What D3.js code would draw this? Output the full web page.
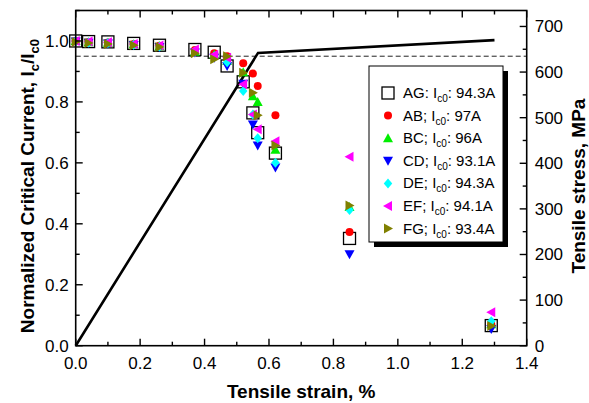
<!DOCTYPE html>
<html><head><meta charset="utf-8">
<script src="https://cdn.jsdelivr.net/npm/d3@7"></script>
<style>body{margin:0;background:#fff}svg{display:block;font-family:Arial,"Liberation Sans",sans-serif}</style>
</head><body><svg id="c" width="589" height="403"></svg>
<script>
// ---- data ----
const strains = [0, 0.04, 0.1, 0.18, 0.26, 0.37, 0.43, 0.47, 0.52, 0.55, 0.565, 0.62, 0.85, 1.29];
const seriesNames = ["AG", "AB", "BC", "CD", "DE", "EF", "FG"];
const seriesLabelSep = [":", ";", ";", ";", ";", ";", ";"];
const seriesIc0 = ["94.3A", "97A", "96A", "93.1A", "94.3A", "94.1A", "93.4A"];
const seriesColors = ["#000000", "#ff0000", "#00ee00", "#0000ff", "#00ffff", "#ff00ff", "#808000"];
const seriesShapes = ["square", "circle", "up", "down", "diamond", "left", "right"];
const AG = [1.0, 0.998, 0.997, 0.992, 0.986, 0.972, 0.963, 0.918, 0.866, 0.764, 0.699, 0.632, 0.352, 0.066];
const AB = [1.0, 0.997, 0.995, 0.99, 0.984, 0.97, 0.96, 0.95, 0.927, 0.893, 0.852, 0.756, 0.373, 0.07];
const BC = [1.0, 0.996, 0.994, 0.989, 0.983, 0.965, 0.955, 0.935, 0.897, 0.819, 0.80, 0.643, 0.455, 0.07];
const CD = [0.998, 0.994, 0.992, 0.987, 0.98, 0.962, 0.945, 0.918, 0.86, 0.726, 0.657, 0.585, 0.30, 0.055];
const DE = [0.999, 0.995, 0.993, 0.988, 0.982, 0.966, 0.95, 0.93, 0.836, 0.759, 0.681, 0.60, 0.445, 0.08];
const EF = [1.0, 0.998, 0.996, 0.99, 0.985, 0.972, 0.955, 0.945, 0.858, 0.759, 0.71, 0.671, 0.62, 0.11];
const FG = [0.997, 0.993, 0.99, 0.986, 0.98, 0.96, 0.94, 0.95, 0.896, 0.83, 0.756, 0.657, 0.46, 0.065];
const seriesValues = [AG, AB, BC, CD, DE, EF, FG];
const stressStrain = [0, 0.566, 1.3];
const stressValues = [0, 642, 670];
const thresholdValue = 0.95;
const xTicks = [0, 0.2, 0.4, 0.6, 0.8, 1.0, 1.2, 1.4];
const yTicks = [0, 0.2, 0.4, 0.6, 0.8, 1.0];
const y2Ticks = [0, 100, 200, 300, 400, 500, 600, 700];

// ---- layout ----
const L = 75.7, R = 526.7, T = 10.5, B = 345.7;
const svg = d3.select("#c");
const x = d3.scaleLinear().domain([0, 1.4]).range([L, R]);
const y = d3.scaleLinear().domain([0, 1.1]).range([B, T]);
const y2 = d3.scaleLinear().domain([0, 735]).range([B, T]);

// threshold dashed line
svg.append("line").attr("x1", L).attr("x2", R).attr("y1", y(thresholdValue)).attr("y2", y(thresholdValue))
  .attr("stroke", "#222").attr("stroke-width", 1).attr("stroke-dasharray", "5,3");

// stress-strain line
svg.append("path").datum(stressStrain.map((s, i) => [s, stressValues[i]]))
  .attr("d", d3.line().x(d => x(d[0])).y(d => y2(d[1])))
  .attr("fill", "none").attr("stroke", "#000").attr("stroke-width", 2.6);

// markers
function marker(g, shape, color, cx, cy) {
  const s = 5;
  if (shape === "square") {
    g.append("rect").attr("x", cx - 6).attr("y", cy - 6).attr("width", 12).attr("height", 12)
      .attr("fill", "none").attr("stroke", color).attr("stroke-width", 1.3);
  } else if (shape === "circle") {
    g.append("circle").attr("cx", cx).attr("cy", cy).attr("r", 4).attr("fill", color);
  } else {
    let pts;
    if (shape === "up") pts = [[cx, cy - s], [cx + s, cy + s * 0.8], [cx - s, cy + s * 0.8]];
    else if (shape === "down") pts = [[cx, cy + s], [cx + s, cy - s * 0.8], [cx - s, cy - s * 0.8]];
    else if (shape === "left") pts = [[cx - s, cy], [cx + s * 0.8, cy - s], [cx + s * 0.8, cy + s]];
    else if (shape === "right") pts = [[cx + s, cy], [cx - s * 0.8, cy - s], [cx - s * 0.8, cy + s]];
    else pts = [[cx, cy - s], [cx + s * 0.85, cy], [cx, cy + s], [cx - s * 0.85, cy]];
    g.append("polygon").attr("points", pts.map(p => p.join(",")).join(" ")).attr("fill", color);
  }
}
const mg = svg.append("g");
seriesValues.forEach((vals, i) => {
  vals.forEach((v, j) => { if (v != null) marker(mg, seriesShapes[i], seriesColors[i], x(strains[j]), y(v)); });
});

// frame
svg.append("rect").attr("x", L).attr("y", T).attr("width", R - L).attr("height", B - T)
  .attr("fill", "none").attr("stroke", "#000").attr("stroke-width", 1.6);

// ticks
const ax = svg.append("g").attr("stroke", "#000").attr("stroke-width", 1.4);
d3.range(0, 15).forEach(k => {
  const v = k / 10, len = (k % 2 === 0) ? 7 : 4;
  ax.append("line").attr("x1", x(v)).attr("x2", x(v)).attr("y1", B).attr("y2", B - len);
  ax.append("line").attr("x1", x(v)).attr("x2", x(v)).attr("y1", T).attr("y2", T + len);
});
d3.range(0, 12).forEach(k => {
  const v = k / 10, len = (k % 2 === 0) ? 7 : 4;
  ax.append("line").attr("x1", L).attr("x2", L + len).attr("y1", y(v)).attr("y2", y(v));
});
d3.range(0, 15).forEach(k => {
  const v = k * 50, len = (k % 2 === 0) ? 7 : 4;
  ax.append("line").attr("x1", R).attr("x2", R - len).attr("y1", y2(v)).attr("y2", y2(v));
});

// tick labels
const fs = 17;
svg.append("g").selectAll("text").data(xTicks).join("text")
  .attr("x", d => x(d)).attr("y", B + 23).attr("text-anchor", "middle").attr("font-size", fs)
  .text(d => d3.format(".1f")(d));
svg.append("g").selectAll("text").data(yTicks).join("text")
  .attr("x", L - 7).attr("y", d => y(d) + 6).attr("text-anchor", "end").attr("font-size", fs)
  .text(d => d3.format(".1f")(d));
svg.append("g").selectAll("text").data(y2Ticks).join("text")
  .attr("x", R + 8).attr("y", d => y2(d) + 6).attr("text-anchor", "start").attr("font-size", fs)
  .text(d => d);

// axis titles
svg.append("text").attr("x", (L + R) / 2).attr("y", 398).attr("text-anchor", "middle")
  .attr("font-size", 19).attr("font-weight", "bold").text("Tensile strain, %");
const yt = svg.append("text").attr("transform", `translate(34,${(T + B) / 2 + 8}) rotate(-90)`)
  .attr("text-anchor", "middle").attr("font-size", 19).attr("font-weight", "bold");
yt.append("tspan").text("Normalized Critical Current, I");
yt.append("tspan").attr("font-size", 13).attr("dy", 5).text("c");
yt.append("tspan").attr("dy", -5).text("/I");
yt.append("tspan").attr("font-size", 13).attr("dy", 5).text("c0");
svg.append("text").attr("transform", `translate(585,${(T + B) / 2 + 8}) rotate(-90)`)
  .attr("text-anchor", "middle").attr("font-size", 19).attr("font-weight", "bold").text("Tensile stress, MPa");

// legend
const lx = 369, ly = 66, lw = 134, lh = 176;
svg.append("rect").attr("x", lx + 5).attr("y", ly + 5).attr("width", lw).attr("height", lh).attr("fill", "#000");
svg.append("rect").attr("x", lx).attr("y", ly).attr("width", lw).attr("height", lh)
  .attr("fill", "#fff").attr("stroke", "#000").attr("stroke-width", 1);
seriesNames.forEach((n, i) => {
  const ry = 93 + i * 22.6;
  marker(svg, seriesShapes[i], seriesColors[i], 388, ry);
  const t = svg.append("text").attr("x", 403).attr("y", ry + 5).attr("font-size", 15);
  t.append("tspan").text(`${n}${seriesLabelSep[i]} I`);
  t.append("tspan").attr("font-size", 10).attr("dy", 4).text("c0");
  t.append("tspan").attr("dy", -4).text(`: ${seriesIc0[i]}`);
});
</script></body></html>
